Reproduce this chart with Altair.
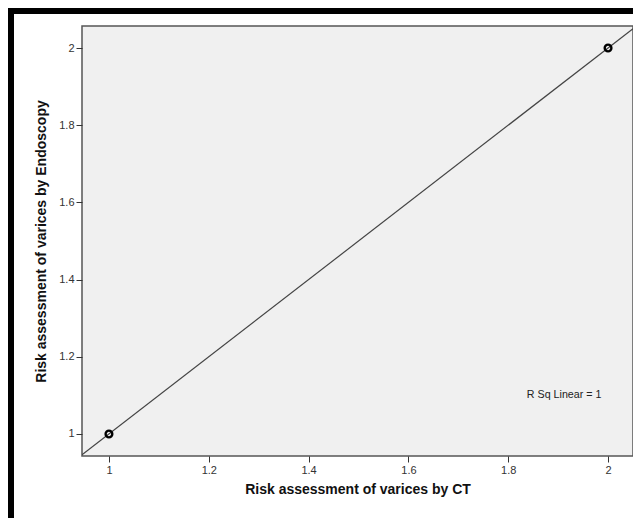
import altair as alt
import pandas as pd

# Observed data (CT vs Endoscopy risk assessment)
ct_values = [1, 2]
endo_values = [1, 2]

# Linear fit: y = intercept + slope * x  (R^2 = 1)
fit_slope = 1.0
fit_intercept = 0.0
x_domain = [0.946, 2.050]
y_domain = [0.943, 2.057]

tick_values = [1.0, 1.2, 1.4, 1.6, 1.8, 2.0]

annotation_text = ["R Sq Linear = 1"]
annotation_x = [1.912]
annotation_y = [1.101]

points = pd.DataFrame({"ct": ct_values, "endo": endo_values})
fit = pd.DataFrame({
    "ct": x_domain,
    "endo": [fit_intercept + fit_slope * v for v in x_domain],
})
ann = pd.DataFrame({"ct": annotation_x, "endo": annotation_y, "label": annotation_text})

xscale = alt.Scale(domain=x_domain, nice=False, zero=False)
yscale = alt.Scale(domain=y_domain, nice=False, zero=False)

x_axis = alt.Axis(values=tick_values, format="~g", title="Risk assessment of varices by CT",
                  grid=False, domain=False, tickSize=6, tickColor="#333333",
                  labelPadding=2, titlePadding=7)
y_axis = alt.Axis(values=tick_values, format="~g", title="Risk assessment of varices by Endoscopy",
                  grid=False, domain=False, tickSize=6, tickColor="#333333",
                  labelPadding=2, titlePadding=10)

line = alt.Chart(fit).mark_line(color="#444444", strokeWidth=1.2, clip=True).encode(
    x=alt.X("ct:Q", scale=xscale, axis=x_axis),
    y=alt.Y("endo:Q", scale=yscale, axis=y_axis),
)

pts = alt.Chart(points).mark_point(shape="circle", filled=False, color="black",
                                   size=45, strokeWidth=2.4, opacity=1).encode(
    x=alt.X("ct:Q", scale=xscale),
    y=alt.Y("endo:Q", scale=yscale),
)

txt = alt.Chart(ann).mark_text(font="Liberation Sans", fontSize=10.7, color="#222222").encode(
    x=alt.X("ct:Q", scale=xscale),
    y=alt.Y("endo:Q", scale=yscale),
    text="label:N",
)

border = alt.Chart(points).mark_rect(filled=False, stroke="black", strokeWidth=6, clip=False).encode(
    x=alt.value(-71), x2=alt.value(640), y=alt.value(-15), y2=alt.value(560),
)

chart = alt.layer(line, pts, txt, border).properties(
    width=551, height=430,
    autosize=alt.AutoSizeParams(type="none"),
    padding={"left": 74, "top": 18, "right": 0, "bottom": 62},
    background="white",
).configure_view(
    fill="#f0f0f0", stroke="#555555", strokeWidth=1.5,
).configure_axis(
    labelFont="Liberation Sans", labelFontSize=11, labelColor="#333333",
    titleFont="Liberation Sans", titleFontSize=14, titleFontWeight="bold", titleColor="#111111",
)

chart.save("out.html", embed_options={"renderer": "svg", "actions": False})
